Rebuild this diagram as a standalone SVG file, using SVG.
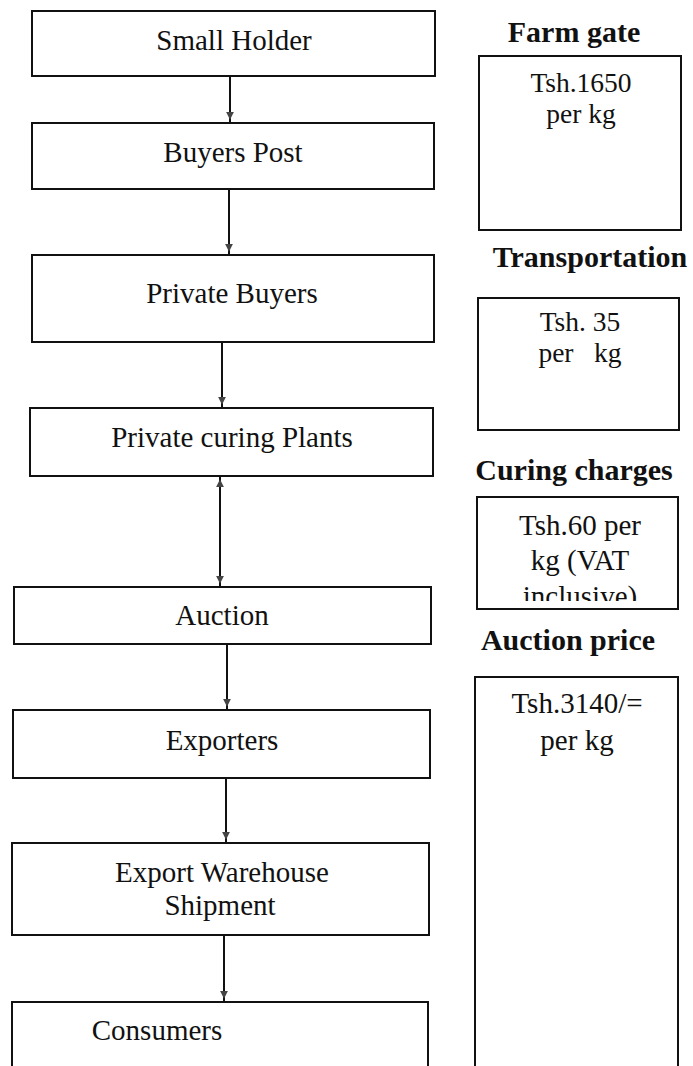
<svg xmlns="http://www.w3.org/2000/svg" width="693" height="1066" viewBox="0 0 693 1066">
<style>
  .box { fill: #ffffff; stroke: #111111; stroke-width: 2; }
  .t { font-family: "Liberation Serif", "Times New Roman", serif; font-size: 29px; fill: #111111; text-anchor: middle; }
  .v { font-family: "Liberation Serif", "Times New Roman", serif; font-size: 27.5px; fill: #111111; text-anchor: middle; }
  .b { font-family: "Liberation Serif", "Times New Roman", serif; font-size: 30px; font-weight: bold; fill: #111111; text-anchor: middle; }
  .conn { fill: none; stroke: #111111; stroke-width: 2; }
</style>
<defs>
  <marker id="arr" viewBox="0 0 10 10" refX="14" refY="5" markerUnits="userSpaceOnUse" markerWidth="8" markerHeight="8" orient="auto-start-reverse">
    <path d="M0,0 L10,5 L0,10 z" fill="#444444"/>
  </marker>
  <clipPath id="curClip"><rect x="477" y="497" width="201" height="104"/></clipPath>
</defs>
<rect width="693" height="1066" fill="#ffffff"/>

<g id="connectors">
  <path class="conn" d="M230 76 L230 123" marker-end="url(#arr)"/>
  <path class="conn" d="M229 189 L229 255" marker-end="url(#arr)"/>
  <path class="conn" d="M222 342 L222 408" marker-end="url(#arr)"/>
  <path class="conn" d="M220 476 L220 587" marker-start="url(#arr)" marker-end="url(#arr)"/>
  <path class="conn" d="M227 644 L227 710" marker-end="url(#arr)"/>
  <path class="conn" d="M226 778 L226 843" marker-end="url(#arr)"/>
  <path class="conn" d="M224 935 L224 1002" marker-end="url(#arr)"/>
</g>

<g id="small-holder">
  <rect class="box" x="32" y="11" width="403" height="65"/>
  <text class="t" x="234" y="50">Small Holder</text>
</g>
<g id="buyers-post">
  <rect class="box" x="32" y="123" width="402" height="66"/>
  <text class="t" x="233" y="162">Buyers Post</text>
</g>
<g id="private-buyers">
  <rect class="box" x="32" y="255" width="402" height="87"/>
  <text class="t" x="232" y="303">Private Buyers</text>
</g>
<g id="private-curing-plants">
  <rect class="box" x="30" y="408" width="403" height="68"/>
  <text class="t" x="232" y="447">Private curing Plants</text>
</g>
<g id="auction">
  <rect class="box" x="14" y="587" width="417" height="57"/>
  <text class="t" x="222" y="625">Auction</text>
</g>
<g id="exporters">
  <rect class="box" x="13" y="710" width="417" height="68"/>
  <text class="t" x="222" y="750">Exporters</text>
</g>
<g id="export-warehouse">
  <rect class="box" x="12" y="843" width="417" height="92"/>
  <text class="t" x="222" y="882">Export Warehouse</text>
  <text class="t" x="220" y="915">Shipment</text>
</g>
<g id="consumers">
  <rect class="box" x="12" y="1002" width="416" height="80"/>
  <text class="t" x="157" y="1040">Consumers</text>
</g>

<g id="farm-gate">
  <text class="b" x="574" y="42">Farm gate</text>
  <rect class="box" x="479" y="56" width="202" height="174"/>
  <text class="v" x="581" y="92">Tsh.1650</text>
  <text class="v" x="581" y="123">per kg</text>
</g>
<g id="transportation">
  <text class="b" x="590" y="267">Transportation</text>
  <rect class="box" x="478" y="298" width="201" height="132"/>
  <text class="v" x="580" y="331">Tsh. 35</text>
  <text class="v" x="580" y="362" xml:space="preserve">per   kg</text>
</g>
<g id="curing-charges">
  <text class="b" x="574" y="480">Curing charges</text>
  <rect class="box" x="477" y="497" width="201" height="112"/>
  <text class="t" x="580" y="535">Tsh.60 per</text>
  <text class="t" x="580" y="570">kg (VAT</text>
  <text class="t" x="580" y="606" clip-path="url(#curClip)">inclusive)</text>
</g>
<g id="auction-price">
  <text class="b" x="568" y="650">Auction price</text>
  <rect class="box" x="475" y="677" width="203" height="410"/>
  <text class="t" x="577" y="713">Tsh.3140/=</text>
  <text class="t" x="577" y="750">per kg</text>
</g>
</svg>
